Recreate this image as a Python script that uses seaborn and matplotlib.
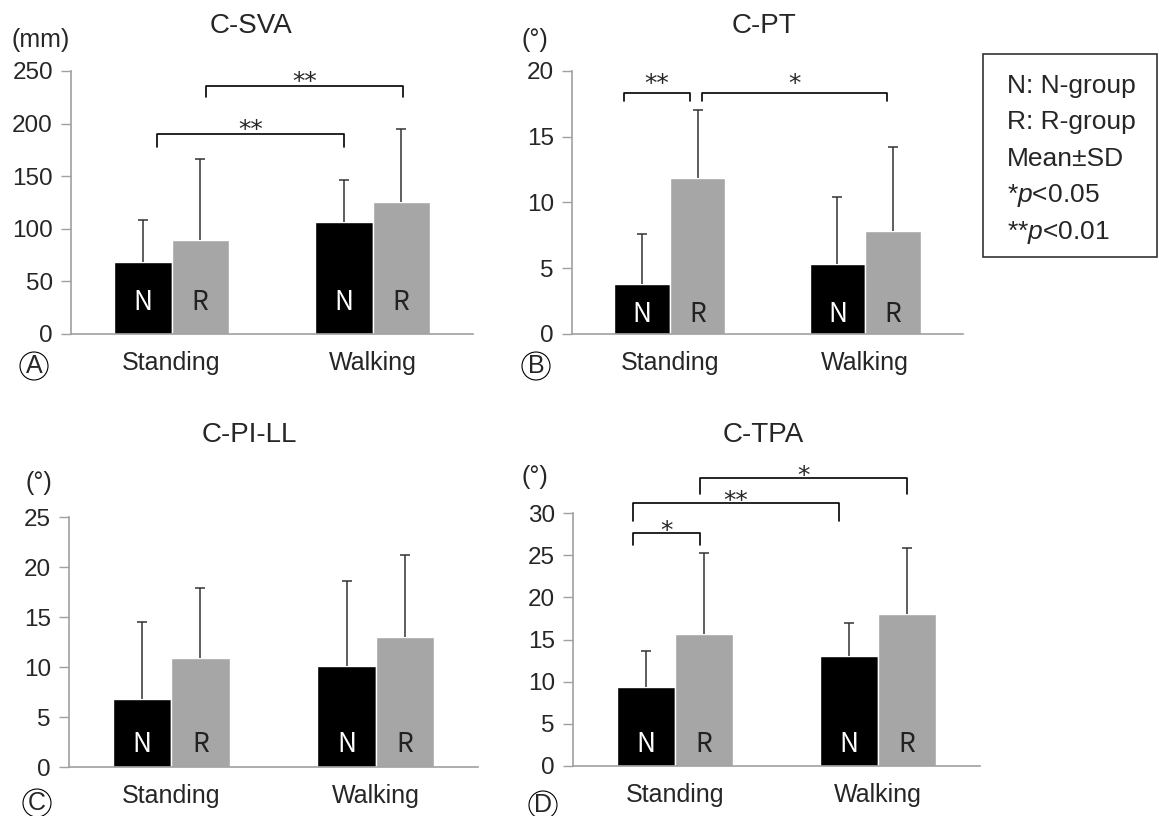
import numpy as np
import pandas as pd
import matplotlib
matplotlib.use("Agg")
import matplotlib.pyplot as plt
import seaborn as sns
from matplotlib.patches import Rectangle

# bar order in every list: Standing N, Standing R, Walking N, Walking R
positions = ["Standing", "Walking"]
groups = ["N", "R"]

csva_mean = [68, 89, 106, 125]
csva_sd = [40, 77, 40, 70]
cpt_mean = [3.8, 11.9, 5.3, 7.8]
cpt_sd = [3.8, 5.1, 5.1, 6.4]
cpill_mean = [6.8, 10.9, 10.1, 13.0]
cpill_sd = [7.7, 7.0, 8.5, 8.2]
ctpa_mean = [9.4, 15.6, 13.1, 18.0]
ctpa_sd = [4.2, 9.6, 3.9, 7.9]

# significance brackets: (bar 1, bar 2, top of bracket, end of legs, label)
csva_brackets = [(("Standing", "N"), ("Walking", "N"), 190, 178, "**"),
                 (("Standing", "R"), ("Walking", "R"), 236, 225, "**")]
cpt_brackets = [(("Standing", "N"), ("Standing", "R"), 18.3, 17.7, "**"),
                (("Standing", "R"), ("Walking", "R"), 18.3, 17.7, "*")]
ctpa_brackets = [(("Standing", "N"), ("Standing", "R"), 27.6, 26.2, "*"),
                 (("Standing", "N"), ("Walking", "N"), 31.2, 29.1, "**"),
                 (("Standing", "R"), ("Walking", "R"), 34.2, 32.2, "*")]

legend_lines = ["N: N-group", "R: R-group", "Mean\u00b1SD", "*$p$<0.05", "**$p$<0.01"]

sns.set_style("white")
plt.rcParams["font.family"] = ["Liberation Sans", "DejaVu Sans"]
plt.rcParams["mathtext.fontset"] = "custom"
plt.rcParams["mathtext.rm"] = "Liberation Sans"
plt.rcParams["mathtext.it"] = "Liberation Sans:italic"

W, H = 1159, 816
fig = plt.figure(figsize=(W / 100, H / 100), dpi=100)
AXIS_GRAY = "#a0a0a0"


def fx(x):
    return x / W


def fy(y):
    return 1 - y / H


def draw_panel(p):
    l, r, b, t = p["box"]
    ax = fig.add_axes([fx(l), fy(b), (r - l) / W, (b - t) / H])
    df = pd.DataFrame({"pos": np.repeat(positions, 2), "group": groups * 2,
                       "mean": p["mean"], "sd": p["sd"]})
    sns.barplot(data=df, x="pos", y="mean", hue="group", order=positions,
                hue_order=groups, palette={"N": "black", "R": "#a6a6a6"},
                width=0.57, saturation=1, errorbar=None, legend=False, ax=ax)

    centers = {}
    for gi, cont in enumerate(ax.containers):
        bars = sorted(cont.patches, key=lambda b_: b_.get_x())
        for pi, bar in enumerate(bars):
            centers[(positions[pi], groups[gi])] = bar.get_x() + bar.get_width() / 2

    xs = [centers[(row.pos, row.group)] for row in df.itertuples()]
    _, caps, _ = ax.errorbar(xs, df["mean"], yerr=[np.zeros(len(df)), df["sd"]],
                             fmt="none", ecolor="#333333", elinewidth=1.1,
                             capsize=3.5, capthick=1.1, zorder=3)
    caps[0].set_visible(False)  # no cap on the bar top

    for row, x in zip(df.itertuples(), xs):
        ax.annotate(row.group, xy=(x, 0), xytext=(0, p["nr_off"] * 0.72),
                    textcoords="offset points", ha="center", va="center",
                    fontsize=19, color="white" if row.group == "N" else "#222222",
                    family=["Noto Sans CJK JP", "DejaVu Sans"])

    for (b1, b2, ytop, yleg, lab), (d1, d2) in zip(p["brackets"], p["nudge"]):
        x1, x2 = centers[b1] + d1, centers[b2] + d2
        ax.plot([x1, x1, x2, x2], [yleg, ytop, ytop, yleg], color="black",
                lw=1.2, clip_on=False)
        ax.annotate(lab, xy=((x1 + x2) / 2, ytop), xytext=(0, p["star_off"] * 0.72),
                    textcoords="offset points", ha="center", va="baseline",
                    fontsize=18, family=["DejaVu Sans"], annotation_clip=False)

    ymax = p["ymax"]
    ax.set_xlim(-0.5, 1.5)
    ax.set_ylim(0, ymax)
    ax.set_yticks(np.arange(0, ymax + 1, p["step"]))
    ax.set_xlabel("")
    ax.set_ylabel("")
    ax.tick_params(axis="y", length=7, width=1, color=AXIS_GRAY, direction="out",
                   left=True, labelsize=17.5, pad=6)
    ax.tick_params(axis="x", length=0, labelsize=18, pad=12)
    for s in ["top", "right"]:
        ax.spines[s].set_visible(False)
    for s in ["left", "bottom"]:
        ax.spines[s].set_color(AXIS_GRAY)
        ax.spines[s].set_linewidth(1.2)

    fig.text(fx(p["title_xy"][0]), fy(p["title_xy"][1]), p["title"],
             ha="center", va="center", fontsize=20)
    fig.text(fx(p["unit_xy"][0]), fy(p["unit_xy"][1]), p["unit"],
             ha="center", va="center", fontsize=18)
    fig.text(fx(p["letter_xy"][0]), fy(p["letter_xy"][1]), p["letter"],
             ha="center", va="center", fontsize=18,
             bbox=dict(boxstyle="circle,pad=0.08", fc="none", ec="black", lw=0.8))


panels = [
    dict(title="C-SVA", unit="(mm)", letter="A", mean=csva_mean, sd=csva_sd,
         ymax=250, step=50, brackets=csva_brackets, nudge=[(0.07, 0), (0.03, 0.01)],
         box=(71, 473, 334, 71), title_xy=(251, 26), unit_xy=(41, 40),
         letter_xy=(34, 366), nr_off=31, star_off=-3),
    dict(title="C-PT", unit="(\u00b0)", letter="B", mean=cpt_mean, sd=cpt_sd,
         ymax=20, step=5, brackets=cpt_brackets, nudge=[(-0.092, -0.041), (0.02, -0.03)],
         box=(572, 963, 334, 71), title_xy=(764, 26), unit_xy=(535, 40),
         letter_xy=(536, 366), nr_off=19, star_off=2),
    dict(title="C-PI-LL", unit="(\u00b0)", letter="C", mean=cpill_mean, sd=cpill_sd,
         ymax=25, step=5, brackets=[], nudge=[],
         box=(69, 478, 767, 517), title_xy=(249, 435), unit_xy=(39, 483),
         letter_xy=(37, 803), nr_off=22, star_off=0),
    dict(title="C-TPA", unit="(\u00b0)", letter="D", mean=ctpa_mean, sd=ctpa_sd,
         ymax=30, step=5, brackets=ctpa_brackets,
         nudge=[(-0.063, -0.02), (-0.063, -0.05), (-0.02, 0)],
         box=(573, 980, 766, 513), title_xy=(763, 435), unit_xy=(535, 477),
         letter_xy=(543, 805), nr_off=21, star_off=-5),
]

for p in panels:
    draw_panel(p)

# legend box on the right
fig.patches.append(Rectangle((fx(983), fy(257)), (1157 - 983) / W, (257 - 54) / H,
                             transform=fig.transFigure, fill=False, ec="#333333", lw=1.2))
for i, line in enumerate(legend_lines):
    fig.text(fx(1007), fy(86 + i * 36.5), line, ha="left", va="center", fontsize=19)

fig.savefig("out.png", dpi=100)
